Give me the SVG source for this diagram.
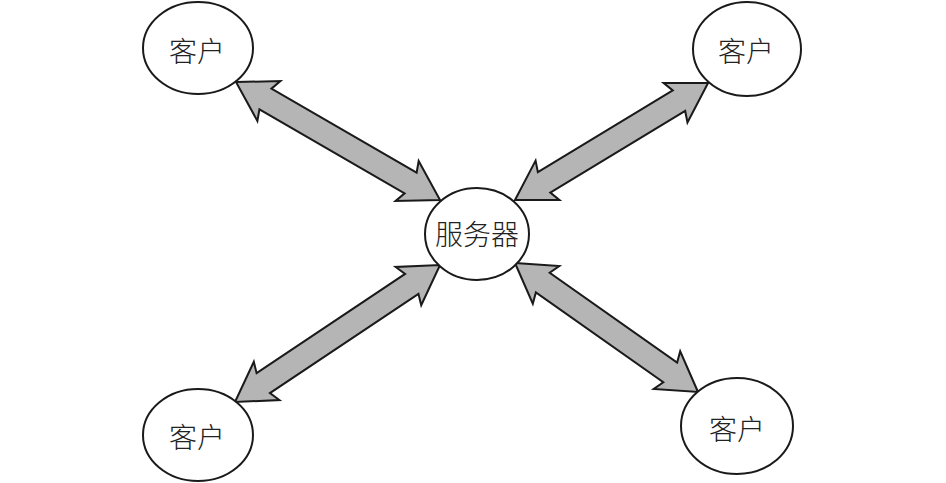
<svg xmlns="http://www.w3.org/2000/svg" width="946" height="483" viewBox="0 0 946 483">
<style>
.node ellipse{fill:#fff;stroke:#1a1a1a;stroke-width:2}
.node text{font-family:"Noto Sans CJK SC","Noto Sans CJK JP",sans-serif;font-size:28px;font-weight:300;fill:#222;text-anchor:middle;dominant-baseline:central}
.arrow{fill:#b5b5b5;stroke:#1a1a1a;stroke-width:2;stroke-linejoin:miter}
</style>
<rect width="946" height="483" fill="#fff"/>
<g id="connectors">
<path class="arrow" transform="translate(236,82) rotate(30.04)" d="M0,0 L38,-23 L34,-12 L201.7,-12 L197.7,-23 L235.7,0 L197.7,23 L201.7,12 L34,12 L38,23 Z"/>
<path class="arrow" transform="translate(515,200) rotate(-31.2)" d="M0,0 L38,-23 L34,-12 L191.7,-12 L187.7,-23 L225.7,0 L187.7,23 L191.7,12 L34,12 L38,23 Z"/>
<path class="arrow" transform="translate(235,402) rotate(-33.75)" d="M0,0 L38,-23 L34,-12 L212.6,-12 L208.6,-23 L246.6,0 L208.6,23 L212.6,12 L34,12 L38,23 Z"/>
<path class="arrow" transform="translate(515,263) rotate(35.18)" d="M0,0 L38,-23 L34,-12 L189.9,-12 L185.9,-23 L223.9,0 L185.9,23 L189.9,12 L34,12 L38,23 Z"/>
</g>
<g id="client-tl" class="node"><ellipse cx="198" cy="48" rx="55" ry="46"/><text x="197" y="50">客户</text></g>
<g id="client-tr" class="node"><ellipse cx="747" cy="49" rx="54" ry="47"/><text x="746" y="50">客户</text></g>
<g id="server" class="node"><ellipse cx="477" cy="234" rx="52" ry="46"/><text x="477" y="233">服务器</text></g>
<g id="client-bl" class="node"><ellipse cx="198" cy="435" rx="55" ry="46"/><text x="197" y="436">客户</text></g>
<g id="client-br" class="node"><ellipse cx="737" cy="426" rx="56" ry="48"/><text x="737" y="428">客户</text></g>
</svg>
